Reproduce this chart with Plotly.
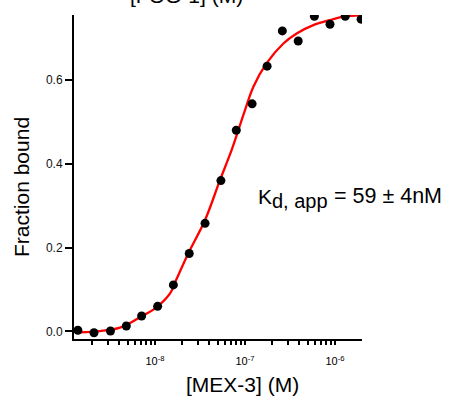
import plotly.graph_objects as go

# Measured data (concentration in M, fraction bound)
conc = [1.39e-9, 2.1e-9, 3.2e-9, 4.8e-9, 7.1e-9, 1.07e-8, 1.6e-8, 2.4e-8, 3.6e-8,
        5.4e-8, 8.0e-8, 1.2e-7, 1.76e-7, 2.6e-7, 3.9e-7, 5.9e-7, 8.8e-7, 1.3e-6, 1.95e-6]
frac = [0.003, -0.003, 0.001, 0.013, 0.037, 0.060, 0.111, 0.186, 0.258,
        0.360, 0.480, 0.543, 0.633, 0.717, 0.693, 0.752, 0.733, 0.752, 0.745]

# Fitted curve
fit_conc = [1.47e-9, 2.45e-9, 4.08e-9, 6.8e-9, 1.0e-8, 1.47e-8, 1.71e-8, 2.34e-8,
            3.6e-8, 5.27e-8, 7.11e-8, 1.0e-7, 1.24e-7, 1.74e-7, 2.67e-7, 3.75e-7,
            5.74e-7, 8.79e-7, 1.24e-6, 1.98e-6]
fit_frac = [-0.002, 0.001, 0.009, 0.034, 0.055, 0.091, 0.122, 0.186,
            0.266, 0.361, 0.433, 0.528, 0.584, 0.640, 0.687, 0.711,
            0.731, 0.743, 0.751, 0.755]

y_ticks = [0.0, 0.2, 0.4, 0.6]
decades = [-9, -8, -7, -6]
x_tickvals = []
x_ticktext = []
for d in decades:
    for m in range(1, 10):
        v = m * 10.0 ** d
        if 1.26e-9 <= v <= 2.01e-6:
            x_tickvals.append(v)
            x_ticktext.append(f"10<sup>{d}</sup>" if m == 1 else "")

font_family = "Liberation Sans, Arial, Helvetica, sans-serif"

# plot area in pixels
L, T, R, B = 74, 15, 362, 339
W, H = 450, 402


def px_x(p):
    return (p - L) / (R - L)


def px_y(p):
    return (B - p) / (B - T)


fig = go.Figure()
fig.add_trace(go.Scatter(x=fit_conc, y=fit_frac, mode="lines",
                         line=dict(color="#ff0000", width=2.3, shape="spline"),
                         hoverinfo="skip", showlegend=False))
fig.add_trace(go.Scatter(x=conc, y=frac, mode="markers",
                         marker=dict(color="black", size=9),
                         showlegend=False))

fig.update_layout(
    width=W, height=H,
    margin=dict(l=L, r=W - R, t=T, b=H - B, autoexpand=False),
    paper_bgcolor="white", plot_bgcolor="white",
    font=dict(family=font_family, color="black"),
    xaxis=dict(type="log", range=[-8.9, -5.7], automargin=False,
               tickvals=x_tickvals, ticktext=x_ticktext,
               ticks="outside", ticklen=4, tickwidth=1.5, tickcolor="black",
               ticklabelstandoff=7,
               showline=True, linewidth=2, linecolor="black",
               showgrid=False, zeroline=False,
               tickfont=dict(size=11, color="black")),
    yaxis=dict(range=[-0.018, 0.755], tickvals=y_ticks, tickformat=".1f",
               automargin=False,
               ticks="outside", ticklen=7, tickwidth=1.5, tickcolor="black",
               showline=True, linewidth=2, linecolor="black",
               showgrid=False, zeroline=False,
               tickfont=dict(size=12, color="#111")),
)

# axis titles
fig.add_annotation(xref="paper", yref="paper", x=px_x(242), y=px_y(384.5),
                   xanchor="center", yanchor="middle", showarrow=False,
                   text="[MEX-3] (M)", font=dict(size=21))
fig.add_annotation(xref="paper", yref="paper", x=px_x(21.5), y=px_y(187.5),
                   xanchor="center", yanchor="middle", showarrow=False,
                   textangle=-90, text="Fraction bound", font=dict(size=21))

# Kd label
fig.add_annotation(xref="paper", yref="paper", x=px_x(255.5), y=px_y(196),
                   xanchor="left", yanchor="middle", showarrow=False,
                   text="K", font=dict(size=21))
fig.add_annotation(xref="paper", yref="paper", x=px_x(269.5), y=px_y(200.7),
                   xanchor="left", yanchor="middle", showarrow=False,
                   text="d, app", font=dict(size=20))
fig.add_annotation(xref="paper", yref="paper", x=px_x(331.5), y=px_y(196),
                   xanchor="left", yanchor="middle", showarrow=False,
                   text="= 59 ± 4nM", font=dict(size=21.5))

# clipped title of the panel above
fig.add_annotation(xref="paper", yref="paper", x=px_x(186.5), y=px_y(-4.2),
                   xanchor="center", yanchor="middle", showarrow=False,
                   text="[FOG-1] (M)", font=dict(size=21))

fig.write_html("out.html",
               config={"displayModeBar": False},
               post_script="document.body.style.margin='0';"
                           "document.body.style.overflow='hidden';")
